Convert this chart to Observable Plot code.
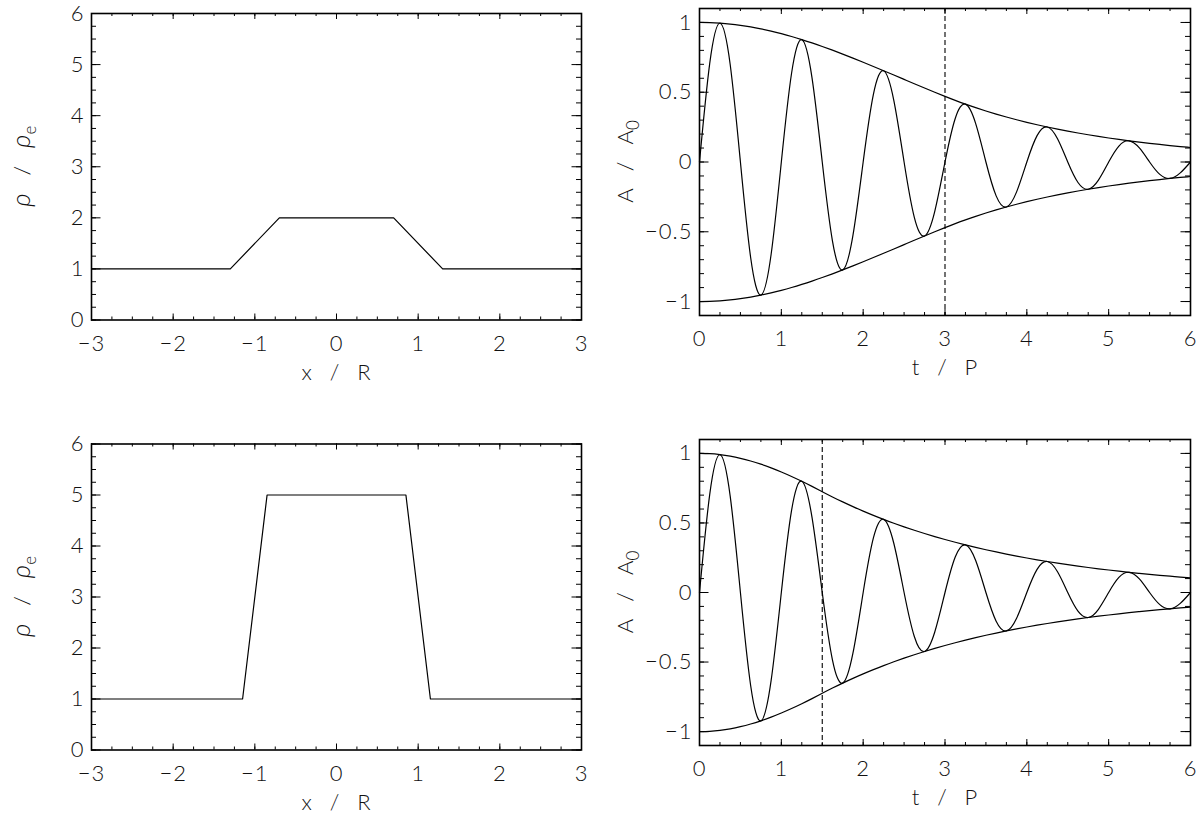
<!DOCTYPE html>
<html><head><meta charset="utf-8">
<script src="https://cdn.jsdelivr.net/npm/d3@7"></script>
<script src="https://cdn.jsdelivr.net/npm/@observablehq/plot@0.6"></script>
<style>
body{margin:0;background:#fff;}
#chart{position:relative;width:1200px;height:818px;background:#fff;overflow:hidden;}
#chart svg{position:absolute;}
</style></head><body><div id="chart"></div>
<script>
// ---- Data ----
// Density profiles (left panels)
const profile1X = [-3, -1.3, -0.7, 0.7, 1.3, 3];
const profile1Y = [1, 1, 2, 2, 1, 1];
const profile2X = [-3, -1.15, -0.85, 0.85, 1.15, 3];
const profile2Y = [1, 1, 5, 5, 1, 1];

// Time samples (t / P) for the oscillation panels
const tSamples = d3.range(0, 6.0001, 0.125);
// Damping envelopes and oscillations (right panels)
const env1 = [1.0000, 0.9987, 0.9948, 0.9883, 0.9792, 0.9678, 0.9539, 0.9378, 0.9195, 0.8993, 0.8771, 0.8533, 0.8280, 0.8013, 0.7734, 0.7446, 0.7149, 0.6847, 0.6540, 0.6230, 0.5920, 0.5610, 0.5303, 0.4999, 0.4700, 0.4414, 0.4145, 0.3893, 0.3656, 0.3433, 0.3224, 0.3028, 0.2844, 0.2670, 0.2508, 0.2355, 0.2212, 0.2077, 0.1951, 0.1832, 0.1720, 0.1616, 0.1517, 0.1425, 0.1338, 0.1257, 0.1180, 0.1108, 0.1041];
const wave1 = [0, 0.7062, 0.9948, 0.6988, 0, -0.6843, -0.9539, -0.6631, 0, 0.6359, 0.8771, 0.6034, 0, -0.5666, -0.7734, -0.5265, 0, 0.4842, 0.6540, 0.4405, 0, -0.3967, -0.5303, -0.3535, 0, 0.3121, 0.4145, 0.2753, 0, -0.2427, -0.3224, -0.2141, 0, 0.1888, 0.2508, 0.1665, 0, -0.1469, -0.1951, -0.1295, 0, 0.1143, 0.1517, 0.1008, 0, -0.0889, -0.1180, -0.0783, 0];
const env2 = [1.0000, 0.9978, 0.9911, 0.9801, 0.9649, 0.9457, 0.9227, 0.8963, 0.8668, 0.8345, 0.7999, 0.7632, 0.7250, 0.6872, 0.6513, 0.6173, 0.5851, 0.5546, 0.5256, 0.4982, 0.4722, 0.4476, 0.4242, 0.4021, 0.3811, 0.3612, 0.3423, 0.3245, 0.3075, 0.2915, 0.2763, 0.2619, 0.2482, 0.2352, 0.2229, 0.2113, 0.2003, 0.1898, 0.1799, 0.1705, 0.1616, 0.1532, 0.1452, 0.1376, 0.1304, 0.1236, 0.1172, 0.1110, 0.1052];
const wave2 = [0, 0.7056, 0.9911, 0.6930, 0, -0.6687, -0.9227, -0.6338, 0, 0.5901, 0.7999, 0.5397, 0, -0.4859, -0.6513, -0.4365, 0, 0.3922, 0.5256, 0.3523, 0, -0.3165, -0.4242, -0.2843, 0, 0.2554, 0.3423, 0.2295, 0, -0.2061, -0.2763, -0.1852, 0, 0.1663, 0.2229, 0.1494, 0, -0.1342, -0.1799, -0.1206, 0, 0.1083, 0.1452, 0.0973, 0, -0.0874, -0.1172, -0.0785, 0];
const switchTime1 = 3;
const switchTime2 = 1.5;

// Ticks
const xTicksLeft = [-3, -2, -1, 0, 1, 2, 3];
const yTicksLeft = [0, 1, 2, 3, 4, 5, 6];
const xTicksRight = [0, 1, 2, 3, 4, 5, 6];
const yTicksRight = [-1, -0.5, 0, 0.5, 1];
const xMinorLeft = d3.range(-3, 3.001, 0.25);
const yMinorLeft = d3.range(0, 6.001, 0.25);
const xMinorRight = d3.range(0, 6.001, 0.25);
const yMinorRight = d3.range(-1, 1.001, 0.1);

// ---- Drawing ----
const FONT = "Lato, 'Liberation Sans', 'DejaVu Sans', sans-serif";
const fmt = d => d < 0 ? "\u2212" + Math.abs(d) : String(d);
const chart = document.getElementById("chart");

function panel(o) {
  const fw = o.width - o.mL - o.mR, fh = o.height - o.mT - o.mB;
  const plot = Plot.plot({
    width: o.width, height: o.height,
    marginLeft: o.mL, marginRight: o.mR, marginTop: o.mT, marginBottom: o.mB,
    x: {domain: o.xDomain}, y: {domain: o.yDomain},
    style: {fontFamily: FONT, fontSize: "22px", fontWeight: 300, letterSpacing: "1px", color: "#111", background: "transparent", overflow: "visible"},
    marks: [
      ...o.marks,
      Plot.ruleX(o.xMajor, {x: d => d, insetTop: fh - 6, stroke: "#000"}),
      Plot.ruleX(o.xMajor, {x: d => d, insetBottom: fh - 6, stroke: "#000"}),
      Plot.ruleX(o.xMinor, {x: d => d, insetTop: fh - 3, stroke: "#000"}),
      Plot.ruleX(o.xMinor, {x: d => d, insetBottom: fh - 3, stroke: "#000"}),
      Plot.ruleY(o.yMajor, {y: d => d, insetRight: fw - 9.5, stroke: "#000"}),
      Plot.ruleY(o.yMajor, {y: d => d, insetLeft: fw - 9.5, stroke: "#000"}),
      Plot.ruleY(o.yMinor, {y: d => d, insetRight: fw - 5, stroke: "#000"}),
      Plot.ruleY(o.yMinor, {y: d => d, insetLeft: fw - 5, stroke: "#000"}),
      Plot.axisX(o.xMajor, {tickSize: 0, tickPadding: 15, tickFormat: fmt, label: null, fontSize: 22}),
      Plot.axisY(o.yMajor, {tickSize: 0, tickPadding: 7, tickFormat: fmt, label: null, fontSize: 22}),
      Plot.frame({stroke: "#000", strokeWidth: 1.6})
    ]
  });
  plot.style.left = o.left + "px";
  plot.style.top = o.top + "px";
  const svg = d3.select(plot);
  // x title
  svg.append("text")
    .attr("x", o.mL + fw / 2).attr("y", o.mT + fh + 60)
    .attr("text-anchor", "middle")
    .attr("fill", "#111")
    .style("font-size", "22px").style("letter-spacing", "0px").style("white-space", "pre")
    .text(o.xTitle);
  // y title (rotated)
  const yt = svg.append("text")
    .attr("transform", `translate(${o.yTitleX},${o.mT + fh / 2}) rotate(-90)`)
    .attr("text-anchor", "middle")
    .attr("fill", "#111")
    .style("font-size", "22px").style("letter-spacing", "0px").style("white-space", "pre");
  o.yTitle(yt);
  chart.appendChild(plot);
}

const densityMarks = (xs, ys) => [
  Plot.line(xs.map((x, i) => ({x, y: ys[i]})), {x: "x", y: "y", stroke: "#000", strokeWidth: 1.2})
];
const waveMarks = (env, wave, ts) => {
  const rows = tSamples.map((t, i) => ({t, env: env[i], wave: wave[i]}));
  return [
    Plot.line(rows, {x: "t", y: "env", curve: "natural", stroke: "#000", strokeWidth: 1.2}),
    Plot.line(rows, {x: "t", y: d => -d.env, curve: "natural", stroke: "#000", strokeWidth: 1.2}),
    Plot.line(rows, {x: "t", y: "wave", curve: "natural", stroke: "#000", strokeWidth: 1.2}),
    Plot.ruleX([ts], {stroke: "#000", strokeWidth: 1.1, strokeDasharray: "5,3"})
  ];
};
const rhoTitle = t => {
  t.append("tspan").style("font-style", "italic").style("font-size", "26px").text("\u03c1");
  t.append("tspan").text("   /   ");
  t.append("tspan").style("font-style", "italic").style("font-size", "26px").text("\u03c1");
  t.append("tspan").attr("dy", "0.35em").style("font-size", "17px").text("e");
};
const ampTitle = t => {
  t.append("tspan").text("A   /   A");
  t.append("tspan").attr("dy", "0.35em").style("font-size", "17px").text("0");
};

panel({left: 0, top: 0, width: 600, height: 409, mL: 91, mR: 19, mT: 13, mB: 89.5,
  xDomain: [-3, 3], yDomain: [0, 6], xMajor: xTicksLeft, xMinor: xMinorLeft, yMajor: yTicksLeft, yMinor: yMinorLeft,
  marks: densityMarks(profile1X, profile1Y), xTitle: "x   /   R", yTitle: rhoTitle, yTitleX: 30});
panel({left: 0, top: 409, width: 600, height: 409, mL: 91, mR: 19, mT: 34.5, mB: 68.5,
  xDomain: [-3, 3], yDomain: [0, 6], xMajor: xTicksLeft, xMinor: xMinorLeft, yMajor: yTicksLeft, yMinor: yMinorLeft,
  marks: densityMarks(profile2X, profile2Y), xTitle: "x   /   R", yTitle: rhoTitle, yTitleX: 30});
panel({left: 600, top: 0, width: 600, height: 409, mL: 99, mR: 10, mT: 8, mB: 94,
  xDomain: [0, 6], yDomain: [-1.1, 1.1], xMajor: xTicksRight, xMinor: xMinorRight, yMajor: yTicksRight, yMinor: yMinorRight,
  marks: waveMarks(env1, wave1, switchTime1), xTitle: "t   /   P", yTitle: ampTitle, yTitleX: 33});
panel({left: 600, top: 409, width: 600, height: 409, mL: 99, mR: 10, mT: 30, mB: 73,
  xDomain: [0, 6], yDomain: [-1.1, 1.1], xMajor: xTicksRight, xMinor: xMinorRight, yMajor: yTicksRight, yMinor: yMinorRight,
  marks: waveMarks(env2, wave2, switchTime2), xTitle: "t   /   P", yTitle: ampTitle, yTitleX: 33});
</script></body></html>
